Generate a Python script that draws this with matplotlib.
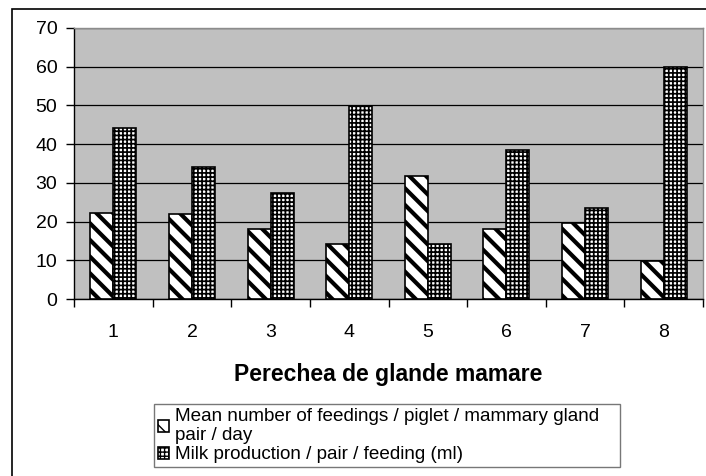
import numpy as np
import matplotlib.pyplot as plt
from matplotlib.patches import Rectangle

plt.rcParams['font.family'] = ['Liberation Sans', 'DejaVu Sans']

# data
pairs = ['1', '2', '3', '4', '5', '6', '7', '8']
feedings = [22.3, 22.0, 18.2, 14.2, 31.8, 18.2, 19.7, 9.7]
milk = [44.1, 34.0, 27.3, 49.8, 14.2, 38.5, 23.6, 59.8]
label_feed = 'Mean number of feedings / piglet / mammary gland\npair / day'
label_milk = 'Milk production / pair / feeding (ml)'

fig = plt.figure(figsize=(7.06, 4.76), dpi=100)
ax = fig.add_axes([74/706, 1-299/476, (703-74)/706, (299-28)/476])
ax.set_facecolor('#c0c0c0')

x = np.arange(len(pairs))
w = 0.293
with plt.rc_context({'hatch.linewidth': 3.0}):
    ax.bar(x - w/2, feedings, w, color='white', edgecolor='black', hatch='\\\\',
           linewidth=1.2, label=label_feed, zorder=3)
with plt.rc_context({'hatch.linewidth': 1.25}):
    ax.bar(x + w/2, milk, w, color='white', edgecolor='black', hatch='++++',
           linewidth=1.2, label=label_milk, zorder=3)

ax.set_xlim(-0.5, 7.5)
ax.set_ylim(0, 70)
ax.set_yticks(range(0, 71, 10))
ax.yaxis.grid(True, color='black', linewidth=0.9, zorder=1)
ax.set_axisbelow(True)

ax.set_xticks(x)
ax.set_xticklabels(pairs)
ax.set_xticks(np.arange(-0.5, 8, 1), minor=True)
ax.tick_params(axis='x', which='major', length=0, pad=18, labelsize=14)
ax.tick_params(axis='x', which='minor', length=6, width=1, direction='out')
ax.tick_params(axis='y', length=6, width=1, labelsize=14, pad=6)

for s in ['top', 'right']:
    ax.spines[s].set_color('#8c8c8c')
    ax.spines[s].set_linewidth(1)
for s in ['left', 'bottom']:
    ax.spines[s].set_color('black')
    ax.spines[s].set_linewidth(1)

ax.set_xlabel('Perechea de glande mamare', fontsize=16.5, fontweight='bold', labelpad=16)

leg = fig.legend(loc='upper left', bbox_to_anchor=(154/706, 1-404/476, 466/706, 0),
                 mode='expand', fontsize=13.6, frameon=True, fancybox=False,
                 edgecolor='#555555', handlelength=0.6, handleheight=0.6,
                 handletextpad=0.3, labelspacing=0.1, borderpad=0.2,
                 borderaxespad=0)
leg.get_frame().set_linewidth(1)

fig.patches.append(Rectangle((12/706, -0.1), 1.2, 1.1 - 9/476,
                             transform=fig.transFigure, fill=False,
                             edgecolor='black', linewidth=1.2))

fig.savefig('out.png', dpi=100)
